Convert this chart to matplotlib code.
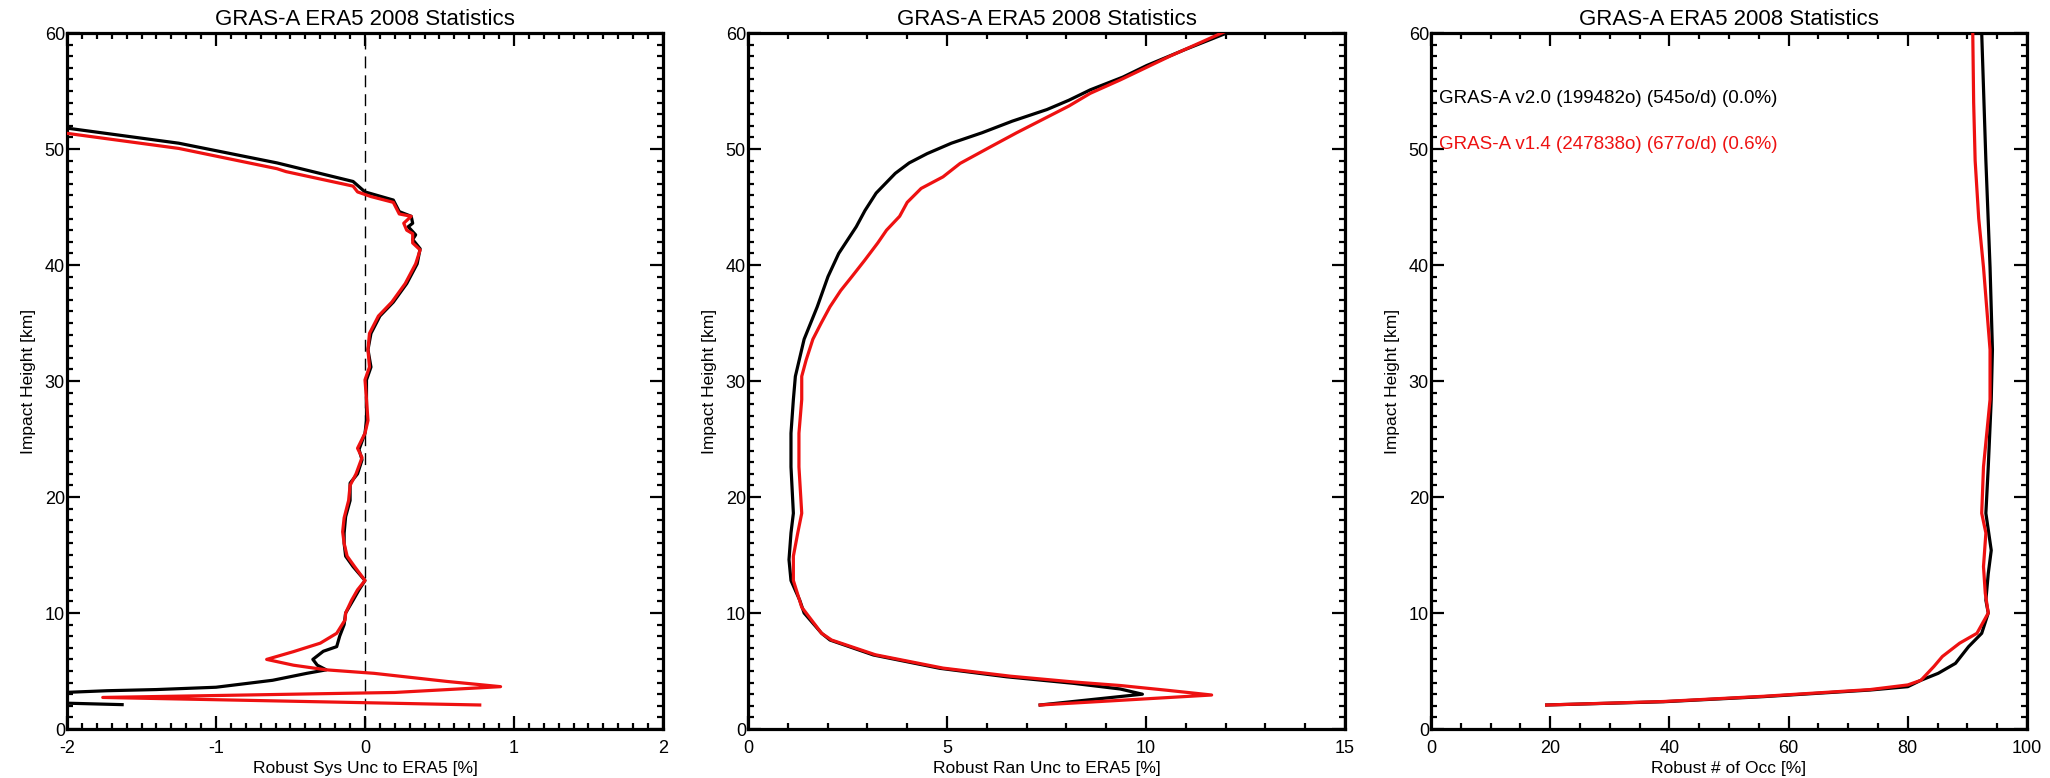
# %%
import numpy as np
import matplotlib.pyplot as plt
from matplotlib.ticker import MultipleLocator

# %%
# profiles vs impact height [km], GRAS-A v2.0 (black) and v1.4 (red)
sys_v20_h = [52.3, 51.8, 50.5, 48.8, 47.2, 46.3, 45.6, 44.6, 44.2, 43.6, 43.3, 42.6,
             42.2, 41.4, 40.1, 38.4, 36.8, 35.6, 34.1, 32.7, 31.2, 30.1, 28.4, 26.6,
             25.5, 24.1, 23.2, 22.0, 21.2, 19.7, 18.3, 16.9, 16.0, 14.9, 14.0, 12.8,
             12.0, 11.1, 10.0, 9.0, 8.0, 7.1, 6.7, 6.0, 5.5, 5.1, 4.8, 4.2, 3.6, 3.4,
             3.3, 3.16, 2.6, 2.1]
sys_v20 = [-2.30, -2.00, -1.25, -0.59, -0.08, 0.00, 0.19, 0.23, 0.31, 0.32, 0.29, 0.34,
           0.32, 0.37, 0.35, 0.28, 0.19, 0.10, 0.04, 0.02, 0.04, 0.01, 0.01, 0.01,
           0.00, -0.04, -0.02, -0.05, -0.10, -0.10, -0.13, -0.14, -0.14, -0.13, -0.08, 0.00,
           -0.04, -0.08, -0.13, -0.14, -0.17, -0.19, -0.28, -0.35, -0.32, -0.26, -0.39, -0.62, -1.00, -1.40,
           -1.73, -2.00, -3.10, -1.63]

sys_v14_h = [51.8, 51.35, 50.05, 48.3, 48.05, 46.8, 46.3, 45.9, 45.4, 44.4, 44.2, 43.6,
             43.0, 42.7, 41.9, 41.3, 40.1, 38.4, 36.8, 35.6, 34.1, 32.7, 31.2, 30.1,
             28.4, 26.6, 25.5, 24.2, 23.4, 22.0, 21.0, 19.7, 18.2, 17.0, 16.0, 14.9,
             14.0, 12.8, 12.0, 11.1, 10.0, 9.4, 8.25, 7.4, 6.67, 6.0, 5.5, 5.1, 4.8,
             4.1, 3.65, 3.15, 2.72, 2.07]
sys_v14 = [-2.30, -2.00, -1.25, -0.59, -0.53, -0.08, -0.05, 0.04, 0.19, 0.23, 0.31, 0.26,
           0.28, 0.32, 0.32, 0.37, 0.34, 0.27, 0.18, 0.09, 0.03, 0.02, 0.03, 0.00,
           0.01, 0.02, 0.00, -0.05, -0.02, -0.06, -0.10, -0.11, -0.14, -0.15, -0.14, -0.12,
           -0.07, 0.00, -0.05, -0.09, -0.13, -0.134, -0.19, -0.30, -0.48, -0.66, -0.48, -0.26, 0.06,
           0.55, 0.91, 0.20, -1.76, 0.77]

ran_v20_h = [60.0, 58.6, 57.2, 56.2, 55.1, 54.2, 53.4, 52.4, 51.4, 50.5, 49.6, 48.8,
             47.9, 46.2, 44.7, 43.3, 41.0, 39.0, 36.4, 33.6, 30.4, 28.4, 25.5, 22.6,
             18.6, 16.9, 14.6, 12.8, 11.1, 10.0, 8.25, 7.67, 6.38, 5.23, 4.5, 3.94,
             3.45, 3.0, 2.07]
ran_v20 = [12.03, 11.0, 10.02, 9.42, 8.60, 8.06, 7.51, 6.64, 5.88, 5.11, 4.50, 4.05,
           3.70, 3.22, 2.94, 2.72, 2.28, 2.01, 1.74, 1.41, 1.19, 1.14, 1.08, 1.08,
           1.14, 1.08, 1.03, 1.08, 1.30, 1.41, 1.85, 2.06, 3.15, 4.82, 6.50, 8.17,
           9.35, 9.91, 7.34]

ran_v14_h = [60.3, 58.0, 55.95, 54.8, 53.7, 51.4, 50.2, 48.76, 47.6, 46.6, 45.4, 44.2,
             43.0, 41.9, 40.4, 39.0, 37.8, 36.4, 35.0, 33.6, 31.8, 30.4, 28.4, 25.5,
             22.6, 18.6, 16.9, 14.9, 12.8, 10.5, 8.25, 7.67, 6.4, 5.25, 4.55, 4.05,
             3.75, 3.35, 2.93, 2.07]
ran_v14 = [12.1, 10.6, 9.35, 8.6, 8.06, 6.75, 6.10, 5.33, 4.90, 4.35, 4.00, 3.81,
           3.48, 3.26, 2.93, 2.61, 2.33, 2.06, 1.84, 1.63, 1.46, 1.35, 1.35, 1.28,
           1.28, 1.35, 1.25, 1.14, 1.14, 1.35, 1.85, 2.10, 3.20, 4.90, 6.60, 8.20,
           9.35, 10.50, 11.65, 7.34]

occ_v20_h = [60.0, 49.0, 39.8, 32.7, 28.4, 22.6, 18.6, 15.4, 13.4, 11.1, 10.0, 8.25,
             7.1, 5.66, 4.8, 4.2, 3.65, 3.36, 2.79, 2.35, 2.07]
occ_v20 = [92.4, 93.1, 93.8, 94.2, 94.0, 93.5, 93.1, 94.0, 93.5, 93.1, 93.5, 92.4,
           90.2, 88.0, 85.1, 82.2, 80.0, 73.7, 55.8, 39.0, 19.4]

occ_v14_h = [60.0, 54.0, 49.0, 44.0, 39.8, 32.7, 28.4, 22.6, 18.6, 16.9, 14.0, 11.7,
             10.0, 8.25, 7.4, 6.25, 5.4, 4.2, 3.8, 3.4, 2.82, 2.37, 2.07]
occ_v14 = [90.9, 91.05, 91.3, 91.9, 92.7, 93.8, 93.8, 92.7, 92.4, 93.1, 92.7, 93.0,
           93.5, 91.6, 88.7, 85.8, 84.4, 82.2, 80.0, 73.7, 55.8, 39.0, 19.4]

labels_v20 = "GRAS-A v2.0 (199482o) (545o/d) (0.0%)"
labels_v14 = "GRAS-A v1.4 (247838o) (677o/d) (0.6%)"
title = "GRAS-A ERA5 2008 Statistics"

# %%
red = "#ee1111"
lwd = 2.3
plt.rcParams.update(
    {
        "font.family": ["Liberation Sans", "DejaVu Sans"],
        "axes.unicode_minus": False,
        "axes.linewidth": 2.3,
        "lines.solid_joinstyle": "round",
    }
)

fig = plt.figure(figsize=(20.5, 7.78), dpi=100)
W, H = 2050, 778
bottom, height = 49 / H, 696 / H
ax1 = fig.add_axes([67 / W, bottom, 596 / W, height])
ax2 = fig.add_axes([748 / W, bottom, 597 / W, height])
ax3 = fig.add_axes([1431 / W, bottom, 596 / W, height])

panels = [
    (ax1, sys_v20, sys_v20_h, sys_v14, sys_v14_h, (-2, 2), 1, 0.1, "Robust Sys Unc to ERA5 [%]"),
    (ax2, ran_v20, ran_v20_h, ran_v14, ran_v14_h, (0, 15), 5, 1, "Robust Ran Unc to ERA5 [%]"),
    (ax3, occ_v20, occ_v20_h, occ_v14, occ_v14_h, (0, 100), 20, 5, "Robust # of Occ [%]"),
]

for ax, x20, h20, x14, h14, xlim, xmaj, xmin, xlabel in panels:
    ax.plot(x20, h20, color="black", lw=lwd, zorder=3)
    ax.plot(x14, h14, color=red, lw=lwd, zorder=4)
    ax.set_xlim(*xlim)
    ax.set_ylim(0, 60)
    ax.xaxis.set_major_locator(MultipleLocator(xmaj))
    ax.xaxis.set_minor_locator(MultipleLocator(xmin))
    ax.yaxis.set_major_locator(MultipleLocator(10))
    ax.yaxis.set_minor_locator(MultipleLocator(1))
    ax.tick_params(which="both", direction="in", top=True, right=True, width=1.6)
    ax.tick_params(which="major", length=9.5)
    ax.tick_params(which="minor", length=4.5)
    ax.tick_params(axis="x", which="major", labelsize=13, pad=8)
    ax.tick_params(axis="y", which="major", labelsize=13, pad=1.5)
    ax.set_xlabel(xlabel, fontsize=12.5, labelpad=3)
    ax.set_ylabel("Impact Height [km]", fontsize=12.5, labelpad=6)
    ax.set_title(title, fontsize=16, pad=6)

ax1.xaxis.set_major_formatter(lambda v, pos: f"{v:.0f}")
ax1.axvline(0, color="black", lw=1.0, ls=(0, (8.6, 5)), zorder=2)

ax3.text(1.3, 54, labels_v20, color="black", fontsize=13.5, va="baseline")
ax3.text(1.3, 50, labels_v14, color=red, fontsize=13.5, va="baseline")

plt.savefig("out.png", dpi=100, facecolor="white")
# %%
